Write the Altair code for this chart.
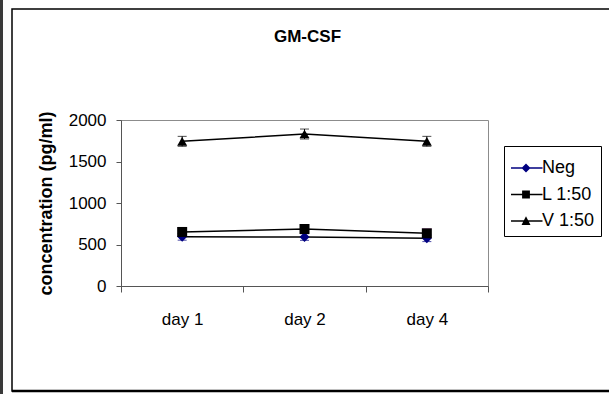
import altair as alt
import pandas as pd

# GM-CSF concentration per day for each condition
days = ["day 1", "day 2", "day 4"]
series_names = ["Neg", "L 1:50", "V 1:50"]
neg_values = [592, 590, 575]
l150_values = [651, 687, 635]
v150_values = [1743, 1831, 1743]
neg_errors = [40, 40, 40]
l150_errors = [50, 50, 50]
v150_errors = [60, 60, 60]

marker_shapes = ["diamond", "square", "triangle-up"]
marker_fills = ["#000080", "#000000", "#000000"]
error_colors = ["#000080", "#ff00ff", "#000000"]

# legend symbols: a thin filled bar (the line) with the marker in its middle
LINE = "M-1,-0.05L1.1,-0.05L1.1,0.05L-1,0.05Z"
legend_paths = [
    LINE + "M0,-0.3L0.3,0L0,0.3L-0.3,0Z",
    LINE + "M-0.26,-0.26L0.26,-0.26L0.26,0.26L-0.26,0.26Z",
    LINE + "M0,-0.32L0.3,0.26L-0.3,0.26Z",
]

rows = []
for name, vals, errs, ecol in zip(
    series_names,
    [neg_values, l150_values, v150_values],
    [neg_errors, l150_errors, v150_errors],
    error_colors,
):
    for d, v, e in zip(days, vals, errs):
        rows.append({"day": d, "series": name, "value": v,
                     "lo": v - e, "hi": v + e, "ecolor": ecol})
df = pd.DataFrame(rows)

W, H = 367, 166
LEFT, TOP = 121, 120

x_enc = alt.X(
    "day:N", sort=days, title=None,
    scale=alt.Scale(type="band", domain=days, paddingInner=0, paddingOuter=0),
    axis=alt.Axis(tickBand="extent", labelAngle=0, labelFontSize=17,
                  labelPadding=19, tickSize=6, domainColor="#555555",
                  tickColor="#555555", labelColor="black", grid=False),
)
y_enc = alt.Y(
    "value:Q",
    scale=alt.Scale(domain=[0, 2000], nice=False),
    axis=alt.Axis(values=[0, 500, 1000, 1500, 2000], format="d",
                  title="concentration (pg/ml)",
                  titleFontSize=18, titleFontWeight="bold", titleColor="black",
                  titleX=-75, titleY=H / 2, titleAlign="center",
                  titleBaseline="middle", titleAngle=270,
                  labelFontSize=17, labelPadding=10, tickSize=5,
                  domainColor="#555555", tickColor="#555555",
                  labelColor="black", grid=False),
)

one = pd.DataFrame({"k": [0]})

# outer chart frame and left strip
frame = alt.Chart(one).mark_rect(fillOpacity=0, stroke="black", strokeWidth=1.5).encode(
    x=alt.value(12 - LEFT), x2=alt.value(612 - LEFT),
    y=alt.value(9 - TOP), y2=alt.value(391 - TOP),
)
frame_bottom = alt.Chart(one).mark_rule(color="black", strokeWidth=2.5).encode(
    x=alt.value(12 - LEFT), x2=alt.value(612 - LEFT), y=alt.value(391 - TOP),
)
strip = alt.Chart(one).mark_rect(fill="#3a3a3a").encode(
    x=alt.value(0 - LEFT), x2=alt.value(3 - LEFT),
    y=alt.value(0 - TOP), y2=alt.value(394 - TOP),
)
title = alt.Chart(pd.DataFrame({"t": ["GM-CSF"]})).mark_text(
    fontSize=17, fontWeight="bold", color="black", align="center", baseline="middle",
).encode(text="t:N", x=alt.value(W / 2 + 3), y=alt.value(37 - TOP))

lines = alt.Chart(df).mark_line(color="black", strokeWidth=1.5).encode(
    x=x_enc, y=y_enc, detail="series:N",
)

err_rules = alt.Chart(df).mark_rule(strokeWidth=1).encode(
    x=x_enc, y="lo:Q", y2="hi:Q", color=alt.Color("ecolor:N", scale=None),
)
err_lo = alt.Chart(df).mark_tick(size=9, thickness=1, orient="horizontal").encode(
    x=x_enc, y="lo:Q", color=alt.Color("ecolor:N", scale=None),
)
err_hi = alt.Chart(df).mark_tick(size=9, thickness=1, orient="horizontal").encode(
    x=x_enc, y="hi:Q", color=alt.Color("ecolor:N", scale=None),
)

points = alt.Chart(df).mark_point(filled=True, size=100, opacity=1).encode(
    x=x_enc, y=y_enc,
    shape=alt.Shape("series:N", scale=alt.Scale(domain=series_names, range=marker_shapes), legend=None),
    fill=alt.Fill("series:N", scale=alt.Scale(domain=series_names, range=marker_fills), legend=None),
)

legend_props = dict(title=None, symbolSize=900, symbolOpacity=1)

legend_layer = alt.Chart(df).mark_point(
    filled=True, opacity=0, size=900,
).encode(
    x=x_enc, y=y_enc,
    shape=alt.Shape("series:N", scale=alt.Scale(domain=series_names, range=legend_paths),
                    legend=alt.Legend(**legend_props)),
    fill=alt.Fill("series:N", scale=alt.Scale(domain=series_names, range=marker_fills),
                  legend=alt.Legend(**legend_props)),
)

chart = alt.layer(
    strip, frame, frame_bottom, title, lines, err_rules, err_lo, err_hi, points, legend_layer
).resolve_scale(
    shape="independent", fill="independent"
).properties(
    width=W, height=H,
    padding={"left": LEFT, "top": TOP, "right": 609 - LEFT - W, "bottom": 394 - TOP - H},
    autosize="none",
).configure(
    font="Liberation Sans",
).configure_view(
    stroke="#8c8c8c", strokeWidth=1,
).configure_legend(
    orient="none", legendX=383, legendY=26,
    strokeColor="black", fillColor="white", padding=6,
    labelFontSize=18, labelColor="black", labelOffset=0, rowPadding=1.5,
)

chart.save("out.html", embed_options={"renderer": "svg", "actions": False})
